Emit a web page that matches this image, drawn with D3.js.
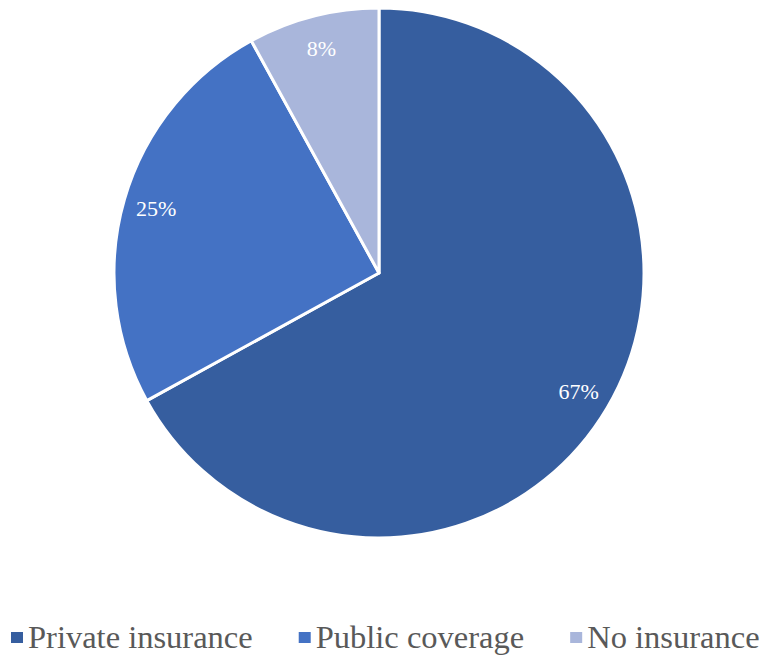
<!DOCTYPE html>
<html>
<head>
<meta charset="utf-8">
<script src="https://cdn.jsdelivr.net/npm/d3@7"></script>
<style>
  html, body { margin: 0; padding: 0; background: #ffffff; }
  svg { display: block; }
</style>
</head>
<body>
<svg id="chart" width="764" height="655"></svg>
<script>
// Health coverage shares
const categories = ["Private insurance", "Public coverage", "No insurance"];
const shares = [67, 25, 8];
const colors = ["#365E9F", "#4472C4", "#A9B6DB"];

const svg = d3.select("#chart");
const cx = 379, cy = 273, radius = 265, labelRadius = 232;
const serif = "Liberation Serif, Times New Roman, serif";

const pie = d3.pie().sort(null).value(d => d.value);
const data = categories.map((c, i) => ({ name: c, value: shares[i], color: colors[i] }));
const arcs = pie(data);

const arc = d3.arc().innerRadius(0).outerRadius(radius);
const labelArc = d3.arc().innerRadius(labelRadius).outerRadius(labelRadius);

const g = svg.append("g").attr("transform", `translate(${cx},${cy})`);

g.selectAll("path.slice")
  .data(arcs)
  .join("path")
  .attr("class", "slice")
  .attr("d", arc)
  .attr("fill", d => d.data.color)
  .attr("stroke", "#ffffff")
  .attr("stroke-width", 3)
  .attr("stroke-linejoin", "round");

g.selectAll("text.pct")
  .data(arcs)
  .join("text")
  .attr("class", "pct")
  .attr("transform", d => `translate(${labelArc.centroid(d)})`)
  .attr("text-anchor", "middle")
  .attr("dy", "0.35em")
  .style("font-family", serif)
  .attr("font-size", 22)
  .attr("fill", "#ffffff")
  .text(d => `${d.data.value}%`);

// Legend laid out left to right along the bottom
const legend = svg.append("g").attr("class", "legend");
const baseline = 648, boxW = 12, boxH = 11, boxGap = 5, itemGap = 46;
let x = 11;
data.forEach(d => {
  const item = legend.append("g");
  item.append("rect")
    .attr("x", x).attr("y", baseline - boxH - 5)
    .attr("width", boxW).attr("height", boxH)
    .attr("fill", d.color);
  const t = item.append("text")
    .attr("x", x + boxW + boxGap).attr("y", baseline)
    .style("font-family", serif)
    .attr("font-size", 32.5)
    .attr("fill", "#595959")
    .text(d.name);
  x += boxW + boxGap + t.node().getComputedTextLength() + itemGap;
});
</script>
</body>
</html>
